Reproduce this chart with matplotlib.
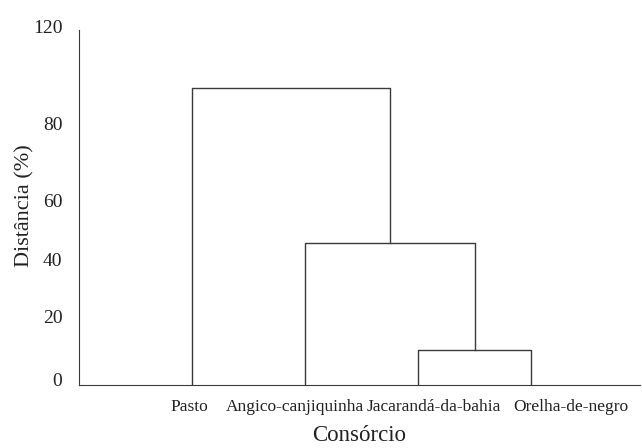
import matplotlib
matplotlib.use('Agg')
import matplotlib.pyplot as plt

plt.rcParams['font.family'] = ['Liberation Serif', 'DejaVu Serif']

consorcios = ['Pasto', 'Angico-canjiquinha', 'Jacarandá-da-bahia', 'Orelha-de-negro']
# agrupamentos: (indice a, indice b, distancia); indices >= 4 sao grupos ja formados
ligacoes = [(2, 3, 11.8), (1, 4, 48.0), (0, 5, 100.3)]

# rotulos deslocados como no original
label_x = [0.98, 1.91, 3.14, 4.35]
ytick_pos = [1.7, 23, 42.3, 62.5, 88.3, 121.2]
ytick_lab = ['0', '20', '40', '60', '80', '120']

fig = plt.figure(figsize=(6.42, 4.48), dpi=100)
ax = fig.add_axes([0.123, 0.1406, 0.874, 0.8022])

cor = '#3a3a3a'
xs = [i + 1 for i in range(len(consorcios))]
ys = [0.0] * len(consorcios)
for a, b, h in ligacoes:
    ax.plot([xs[a], xs[a], xs[b], xs[b]], [ys[a], h, h, ys[b]], color=cor, lw=1.0)
    xs.append((xs[a] + xs[b]) / 2)
    ys.append(h)

ax.set_xlim(0, 4.965)
ax.set_ylim(0, 121.5)
ax.set_xticks(label_x)
ax.set_xticklabels(consorcios, fontsize=12.5)
ax.set_yticks(ytick_pos)
ax.set_yticklabels(ytick_lab, fontsize=14)
ax.tick_params(length=0, colors='#222222')
ax.tick_params(axis='x', pad=10)
ax.tick_params(axis='y', pad=12)
ax.spines['top'].set_visible(False)
ax.spines['right'].set_visible(False)
ax.spines['left'].set_color(cor)
ax.spines['left'].set_bounds(0, 120)
ax.spines['bottom'].set_color(cor)
ax.set_xlabel('Consórcio', fontsize=16.5, color='#222222', labelpad=7)
ax.set_ylabel('Distância (%)', fontsize=16, color='#222222', labelpad=-1)

fig.savefig('out.png', dpi=100)
